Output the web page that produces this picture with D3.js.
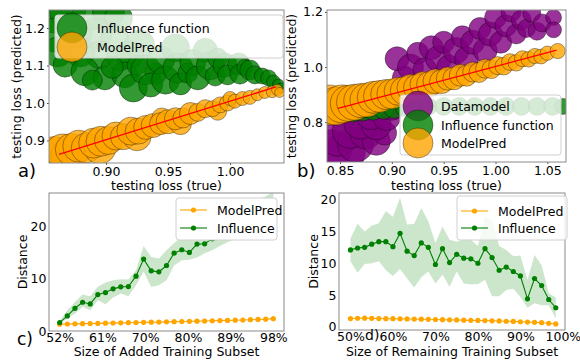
<!DOCTYPE html>
<html>
<head>
<meta charset="utf-8">
<script src="https://cdn.jsdelivr.net/npm/d3@7"></script>
<style>
  body { margin: 0; background: #fff; }
  text { font-family: "DejaVu Sans", sans-serif; }
</style>
</head>
<body>
<svg id="fig" width="580" height="360"></svg>
<script>
// ---- panel a: testing loss, [true, predicted, bubble size 0..1]
const aInfluence = [
  [0.857,1.235,0.90],[0.869,1.243,0.90],[0.886,1.237,0.85],[0.902,1.243,0.80],[0.910,1.227,0.70],
  [0.859,1.181,0.85],[0.875,1.189,0.85],[0.892,1.184,0.80],[0.907,1.173,0.70],
  [0.861,1.136,0.75],[0.879,1.136,0.75],[0.895,1.128,0.70],[0.911,1.120,0.65],
  [0.867,1.101,0.60],[0.883,1.083,0.70],[0.899,1.067,0.60],[0.889,1.061,0.50],
  [0.927,1.155,0.75],[0.919,1.128,0.70],[0.915,1.075,0.65],[0.922,1.040,0.70],
  [0.905,1.095,0.55],[0.925,1.100,0.50],[0.940,1.078,0.55],
  [0.932,1.088,0.75],[0.936,1.048,0.60],[0.944,1.115,0.70],[0.948,1.061,0.70],
  [0.956,1.147,0.70],[0.958,1.093,0.75],[0.960,1.051,0.55],[0.966,1.080,0.50],[0.970,1.109,0.65],
  [0.974,1.067,0.60],[0.980,1.141,0.60],[0.984,1.099,0.70],[0.988,1.072,0.50],[0.990,1.120,0.50],
  [0.996,1.101,0.60],[0.998,1.075,0.50],[1.007,1.104,0.55],[1.008,1.077,0.50],[1.012,1.095,0.40],
  [1.016,1.088,0.50],[1.020,1.075,0.45],[1.026,1.072,0.40],[1.031,1.067,0.40],
  [1.035,1.056,0.35],[1.039,1.048,0.30],[1.041,1.040,0.25]
];
const aModelPred = [
  [0.853,0.862,0.85],[0.858,0.868,0.80],[0.870,0.858,0.90],[0.865,0.872,0.85],[0.872,0.876,0.80],
  [0.878,0.885,0.80],[0.884,0.880,0.75],[0.895,0.880,0.80],[0.890,0.893,0.75],[0.896,0.898,0.75],
  [0.902,0.900,0.70],[0.908,0.912,0.70],[0.914,0.910,0.65],[0.925,0.910,0.70],[0.920,0.925,0.70],
  [0.926,0.925,0.65],[0.932,0.935,0.60],[0.938,0.940,0.60],[0.945,0.960,0.50],[0.944,0.945,0.55],
  [0.950,0.950,0.60],[0.960,0.945,0.55],[0.956,0.958,0.55],[0.962,0.960,0.50],[0.968,0.972,0.55],
  [0.974,0.975,0.45],[0.990,0.978,0.45],[0.980,0.985,0.45],[0.986,0.985,0.40],[0.992,0.995,0.40],
  [0.998,1.000,0.40],[1.000,1.012,0.35],[1.004,1.005,0.35],[1.010,1.012,0.35],[1.016,1.015,0.35],
  [1.022,1.022,0.30],[1.028,1.028,0.30],[1.034,1.030,0.30],[1.038,1.035,0.28],[1.040,1.028,0.25]
];
const aFitLine = [[0.862,0.863],[1.037,1.043]];
const aXTicks = [0.90, 0.95, 1.00];
const aYTicks = [0.9, 1.0, 1.1, 1.2];

// ---- panel b
const bDatamodel = [
  [0.842,0.700,1.00],[0.855,0.690,1.00],[0.848,0.745,0.95],[0.865,0.720,0.90],[0.860,0.770,0.90],
  [0.875,0.760,0.80],[0.885,0.730,0.70],[0.893,0.760,0.60],[0.870,0.800,0.85],[0.885,0.790,0.75],
  [0.880,0.830,0.80],[0.895,0.820,0.70],[0.895,0.870,0.70],[0.900,0.850,0.60],[0.905,0.900,0.70],
  [0.912,0.960,0.60],[0.905,1.030,0.60],[0.918,1.000,0.65],[0.925,1.050,0.55],[0.932,0.990,0.60],
  [0.938,1.070,0.60],[0.945,1.030,0.65],[0.950,1.090,0.55],[0.955,1.000,0.60],[0.962,1.060,0.65],
  [0.968,1.110,0.55],[0.972,1.030,0.60],[0.978,1.090,0.60],[0.985,1.140,0.55],[0.990,1.060,0.60],
  [0.995,1.120,0.60],[1.000,1.180,0.55],[1.005,1.090,0.55],[1.010,1.150,0.55],[1.015,1.200,0.50],
  [1.020,1.120,0.50],[1.025,1.170,0.50],[1.030,1.140,0.45],[1.035,1.195,0.45],[1.040,1.130,0.45],
  [1.045,1.160,0.45],[1.056,1.180,0.40],[1.056,1.135,0.40]
];
const bInfluence = [
  [0.842,0.830,0.50],[0.852,0.833,0.50],[0.862,0.836,0.50],[0.872,0.840,0.50],[0.882,0.843,0.50],
  [0.892,0.847,0.50],[0.902,0.850,0.50],[0.912,0.853,0.45],[0.922,0.855,0.45],[0.935,0.857,0.45],
  [0.950,0.857,0.45],[0.965,0.857,0.45],[0.980,0.857,0.45],[0.995,0.857,0.45],[1.010,0.857,0.45],
  [1.025,0.857,0.45],[1.040,0.857,0.45],[1.055,0.857,0.45],[1.065,0.857,0.40]
];
const bModelPred = [
  [0.840,0.862,1.00],[0.846,0.858,0.95],[0.852,0.866,0.95],[0.858,0.868,0.90],[0.864,0.872,0.90],
  [0.870,0.878,0.85],[0.876,0.880,0.85],[0.882,0.890,0.80],[0.888,0.893,0.80],[0.894,0.900,0.75],
  [0.900,0.902,0.75],[0.906,0.912,0.70],[0.912,0.914,0.70],[0.918,0.924,0.68],[0.924,0.925,0.66],
  [0.930,0.936,0.65],[0.936,0.937,0.63],[0.942,0.948,0.62],[0.948,0.947,0.60],[0.954,0.958,0.58],
  [0.960,0.958,0.56],[0.966,0.970,0.55],[0.972,0.968,0.52],[0.978,0.982,0.50],[0.984,0.980,0.50],
  [0.990,0.994,0.48],[0.996,0.992,0.47],[1.002,1.005,0.45],[1.008,1.003,0.44],[1.014,1.018,0.42],
  [1.020,1.015,0.41],[1.026,1.030,0.40],[1.032,1.028,0.39],[1.038,1.040,0.38],[1.044,1.038,0.37],
  [1.050,1.050,0.36],[1.060,1.058,0.38]
];
const bFitLine = [[0.848,0.850],[1.059,1.061]];
const bXTicks = [0.85, 0.90, 0.95, 1.00, 1.05];
const bYTicks = [0.8, 1.0, 1.2];

// ---- panel c: size of added training subset (%)
const cSubset = [52.00,53.64,55.29,56.93,58.57,60.21,61.86,63.50,65.14,66.79,68.43,70.07,71.71,73.36,75.00,
  76.64,78.29,79.93,81.57,83.21,84.86,86.50,88.14,89.79,91.43,93.07,94.71,96.36,98.00];
const cModelPred = [1.30,1.33,1.36,1.40,1.42,1.45,1.50,1.52,1.55,1.58,1.62,1.65,1.68,1.70,1.74,
  1.78,1.80,1.85,1.88,1.90,1.95,1.98,2.02,2.06,2.10,2.15,2.20,2.26,2.35];
const cInfluence = [1.6,2.87,4.33,5.48,5.16,6.94,7.32,8.03,8.41,8.47,10.45,13.7,11.46,11.27,12.48,
  14.84,15.48,14.97,16.56,16.62,17.6,18.3,19.2,20.0,20.9,21.6,22.5,23.1,24.0];
const cInfluenceLow = [1.4,2.36,3.3,4.6,3.95,5.86,5.1,6.37,7.13,6.62,8.73,11.27,8.4,8.73,9.68,
  12.5,13.5,13.6,14.0,14.8,15.4,16.2,16.9,17.6,18.3,19.0,19.8,20.4,21.2];
const cInfluenceHigh = [1.9,3.95,5.54,6.94,6.62,8.41,9.24,9.68,9.87,9.81,11.6,16.2,14.1,13.8,15.4,
  16.7,18.0,18.3,18.9,18.9,19.8,20.6,21.5,22.4,23.3,24.1,25.0,25.7,26.5];
const cXTicks = [52, 61.2, 70.4, 79.6, 88.8, 98];
const cXTickLabels = ["52%","61%","70%","80%","89%","98%"];
const cYTicks = [0, 10, 20];

// ---- panel d: size of remaining training subset (%)
const dSubset = [50.00,51.67,53.33,55.00,56.67,58.33,60.00,61.67,63.33,65.00,66.67,68.33,70.00,71.67,73.33,
  75.00,76.67,78.33,80.00,81.67,83.33,85.00,86.67,88.33,90.00,91.67,93.33,95.00,96.67,98.33];
const dModelPred = [1.30,1.35,1.36,1.33,1.30,1.28,1.28,1.25,1.24,1.22,1.20,1.18,1.15,1.12,1.10,
  1.08,1.05,1.02,1.00,0.98,0.95,0.92,0.88,0.85,0.80,0.75,0.70,0.65,0.55,0.45];
const dInfluence = [12.1,12.4,12.5,13.0,13.4,13.4,12.6,14.7,11.9,11.2,13.2,12.5,9.8,12.3,10.1,
  11.4,10.8,10.7,10.0,12.3,10.9,8.9,9.4,8.7,8.0,4.4,7.6,6.5,4.3,3.0];
const dInfluenceLow = [10.3,8.5,9.9,10.0,10.3,8.9,8.0,9.1,7.6,6.2,7.8,8.7,6.8,8.2,6.3,
  8.7,6.8,6.7,6.7,7.4,4.8,4.8,5.8,6.0,4.7,3.0,3.7,3.4,3.4,1.3];
const dInfluenceHigh = [13.9,16.2,15.0,15.9,16.3,18.2,17.3,20.3,16.1,16.2,18.7,16.6,13.2,15.8,13.7,
  13.4,13.8,13.7,12.7,17.4,16.8,12.7,12.1,11.1,11.2,7.4,11.3,9.7,5.3,4.6];
const dXTicks = [50, 60, 70, 80, 90, 100];
const dYTicks = [0, 5, 10, 15, 20];

const GREEN = "#008000", ORANGE = "#ffa500", PURPLE = "#800080";
const FONT = 12.5;

const svg = d3.select("#fig");
svg.append("rect").attr("width", 580).attr("height", 360).attr("fill", "#fff");
const defs = svg.append("defs");

function clipFor(id, box) {
  defs.append("clipPath").attr("id", id).append("rect")
    .attr("x", box[0]).attr("y", box[1])
    .attr("width", box[2] - box[0]).attr("height", box[3] - box[1]);
  return `url(#${id})`;
}

function styleAxis(a) {
  a.select(".domain").remove();
  a.attr("font-family", "DejaVu Sans").attr("font-size", FONT);
  a.selectAll("line").attr("stroke", "#555");
  a.selectAll("text").attr("fill", "#000");
}

function frame(g, p, x, y) {
  g.append("g").attr("transform", `translate(0,${p.box[3]})`)
    .call(d3.axisBottom(x).tickValues(p.xTicks).tickFormat(p.xFormat)
      .tickSize(p.tick).tickPadding(p.pad))
    .call(styleAxis);
  g.append("g").attr("transform", `translate(${p.box[0]},0)`)
    .call(d3.axisLeft(y).tickValues(p.yTicks).tickFormat(p.yFormat)
      .tickSize(p.tick).tickPadding(p.pad))
    .call(styleAxis);
  g.append("rect")
    .attr("x", p.box[0]).attr("y", p.box[1])
    .attr("width", p.box[2] - p.box[0]).attr("height", p.box[3] - p.box[1])
    .attr("fill", "none").attr("stroke", "#8a8a8a").attr("stroke-width", 1);
  g.append("text").attr("x", (p.box[0] + p.box[2]) / 2).attr("y", p.xLabelY)
    .attr("text-anchor", "middle").attr("font-size", FONT).text(p.xLabel);
  g.append("text").attr("transform", `translate(${p.yLabelX},${(p.box[1] + p.box[3]) / 2}) rotate(-90)`)
    .attr("text-anchor", "middle").attr("font-size", FONT).text(p.yLabel);
  g.append("text").attr("x", p.tag[0]).attr("y", p.tag[1])
    .attr("font-size", p.tag[2]).text(p.tagText);
}

function scatterPanel(p) {
  const x = d3.scaleLinear().domain(p.xDomain).range([p.box[0], p.box[2]]);
  const y = d3.scaleLinear().domain(p.yDomain).range([p.box[3], p.box[1]]);
  const r = d3.scaleLinear().domain([0, 1]).range([0, 20]);
  const g = svg.append("g");
  const plot = g.append("g").attr("clip-path", clipFor("clip-" + p.id, p.box));

  p.series.forEach(s => {
    plot.append("g").selectAll("circle").data(s.points).join("circle")
      .attr("cx", d => x(d[0])).attr("cy", d => y(d[1])).attr("r", d => r(d[2]))
      .attr("fill", s.color).attr("fill-opacity", 0.8)
      .attr("stroke", "#000").attr("stroke-opacity", 0.6).attr("stroke-width", 0.6);
  });
  plot.append("path").datum(p.fit)
    .attr("d", d3.line().x(d => x(d[0])).y(d => y(d[1])))
    .attr("stroke", "red").attr("stroke-width", 1.3).attr("fill", "none");

  frame(g, p, x, y);

  // legend
  const L = p.legend;
  const lg = g.append("g");
  lg.append("rect").attr("x", L.box[0]).attr("y", L.box[1])
    .attr("width", L.box[2] - L.box[0]).attr("height", L.box[3] - L.box[1]).attr("rx", 3)
    .attr("fill", "#fff").attr("fill-opacity", 0.8).attr("stroke", "#d0d0d0");
  p.series.forEach((s, i) => {
    lg.append("circle").attr("cx", L.markerX).attr("cy", L.rows[i]).attr("r", 15)
      .attr("fill", s.color).attr("fill-opacity", 0.8)
      .attr("stroke", "#000").attr("stroke-opacity", 0.6).attr("stroke-width", 0.6);
  });
  p.series.forEach((s, i) => {
    lg.append("text").attr("x", L.textX).attr("y", L.rows[i] + 4.5)
      .attr("font-size", FONT).text(s.name);
  });
}

function linePanel(p) {
  const x = d3.scaleLinear().domain(p.xDomain).range([p.box[0], p.box[2]]);
  const y = d3.scaleLinear().domain(p.yDomain).range([p.box[3], p.box[1]]);
  const g = svg.append("g");
  g.append("rect").attr("x", p.box[0]).attr("y", p.box[1] - 1)
    .attr("width", p.box[2] - p.box[0]).attr("height", p.box[3] - p.box[1] + 1).attr("fill", "#fff");
  const plot = g.append("g").attr("clip-path", clipFor("clip-" + p.id, p.box));

  const rows = p.xs.map((v, i) => ({x: v, m: p.model[i], f: p.infl[i], lo: p.lo[i], hi: p.hi[i]}));
  plot.append("path").datum(rows)
    .attr("d", d3.area().x(d => x(d.x)).y0(d => y(d.lo)).y1(d => y(d.hi)))
    .attr("fill", GREEN).attr("fill-opacity", 0.2);
  [[ORANGE, "m"], [GREEN, "f"]].forEach(([c, k]) => {
    plot.append("path").datum(rows)
      .attr("d", d3.line().x(d => x(d.x)).y(d => y(d[k])))
      .attr("stroke", c).attr("stroke-width", 1.1).attr("fill", "none");
    plot.append("g").selectAll("circle").data(rows).join("circle")
      .attr("cx", d => x(d.x)).attr("cy", d => y(d[k])).attr("r", 2.6).attr("fill", c);
  });

  frame(g, p, x, y);

  const L = p.legend;
  const lg = g.append("g");
  lg.append("rect").attr("x", L.box[0]).attr("y", L.box[1])
    .attr("width", L.box[2] - L.box[0]).attr("height", L.box[3] - L.box[1]).attr("rx", 3)
    .attr("fill", "#fff").attr("fill-opacity", L.alpha).attr("stroke", "#d0d0d0");
  [[ORANGE, "ModelPred"], [GREEN, "Influence"]].forEach(([c, name], i) => {
    const yy = L.rows[i];
    lg.append("line").attr("x1", L.lineX[0]).attr("x2", L.lineX[1]).attr("y1", yy).attr("y2", yy)
      .attr("stroke", c).attr("stroke-width", 1.1);
    lg.append("circle").attr("cx", (L.lineX[0] + L.lineX[1]) / 2).attr("cy", yy).attr("r", 2.6).attr("fill", c);
    lg.append("text").attr("x", L.textX).attr("y", yy + 4.5).attr("font-size", FONT).text(name);
  });
}

const f2 = d3.format(".2f"), f1 = d3.format(".1f");

scatterPanel({
  id: "a", box: [49, 10, 284, 163], xDomain: [0.854, 1.0435], yDomain: [0.84, 1.248],
  xTicks: aXTicks, yTicks: aYTicks, xFormat: f2, yFormat: f1, tick: 2, pad: 2,
  series: [
    {name: "Influence function", color: GREEN, points: aInfluence},
    {name: "ModelPred", color: ORANGE, points: aModelPred}
  ],
  fit: aFitLine,
  xLabel: "testing loss (true)", xLabelY: 190, yLabel: "testing loss (predicted)", yLabelX: 21,
  tag: [18, 177, 18], tagText: "a)",
  legend: {box: [55, 15, 283, 58], markerX: 72, textX: 97, rows: [28, 47]}
});

scatterPanel({
  id: "b", box: [327, 10, 566, 162], xDomain: [0.8374, 1.068], yDomain: [0.655, 1.207],
  xTicks: bXTicks, yTicks: bYTicks, xFormat: f2, yFormat: f1, tick: 2, pad: 2,
  series: [
    {name: "Datamodel", color: PURPLE, points: bDatamodel},
    {name: "Influence function", color: GREEN, points: bInfluence},
    {name: "ModelPred", color: ORANGE, points: bModelPred}
  ],
  fit: bFitLine,
  xLabel: "testing loss (true)", xLabelY: 190, yLabel: "testing loss (predicted)", yLabelX: 296,
  tag: [297, 177, 18], tagText: "b)",
  legend: {box: [400, 95, 561, 155], markerX: 418, textX: 441, rows: [106, 125, 143]}
});

linePanel({
  id: "c", box: [49, 193, 284, 331], xDomain: [49.7, 100.3], yDomain: [0, 26.3],
  xTicks: cXTicks, yTicks: cYTicks, xFormat: (d, i) => cXTickLabels[i], yFormat: d3.format("d"),
  tick: 0, pad: 2.5,
  xs: cSubset, model: cModelPred, infl: cInfluence, lo: cInfluenceLow, hi: cInfluenceHigh,
  xLabel: "Size of Added Training Subset", xLabelY: 356, yLabel: "Distance", yLabelX: 27,
  tag: [17, 345, 17], tagText: "c)",
  legend: {box: [176, 198, 277, 240], lineX: [180, 207], textX: 217, rows: [210, 228], alpha: 1}
});

linePanel({
  id: "d", box: [339, 193, 565, 330], xDomain: [47.3, 100.5], yDomain: [-0.5, 21.05],
  xTicks: dXTicks, yTicks: dYTicks, xFormat: d => d + "%", yFormat: d3.format("d"),
  tick: 0, pad: 2.5,
  xs: dSubset, model: dModelPred, infl: dInfluence, lo: dInfluenceLow, hi: dInfluenceHigh,
  xLabel: "Size of Remaining Training Subset", xLabelY: 356, yLabel: "Distance", yLabelX: 318,
  tag: [365, 340, 14], tagText: "d)",
  legend: {box: [457, 196, 567, 240], lineX: [461, 488], textX: 498, rows: [211, 228], alpha: 0.8}
});
</script>
</body>
</html>
